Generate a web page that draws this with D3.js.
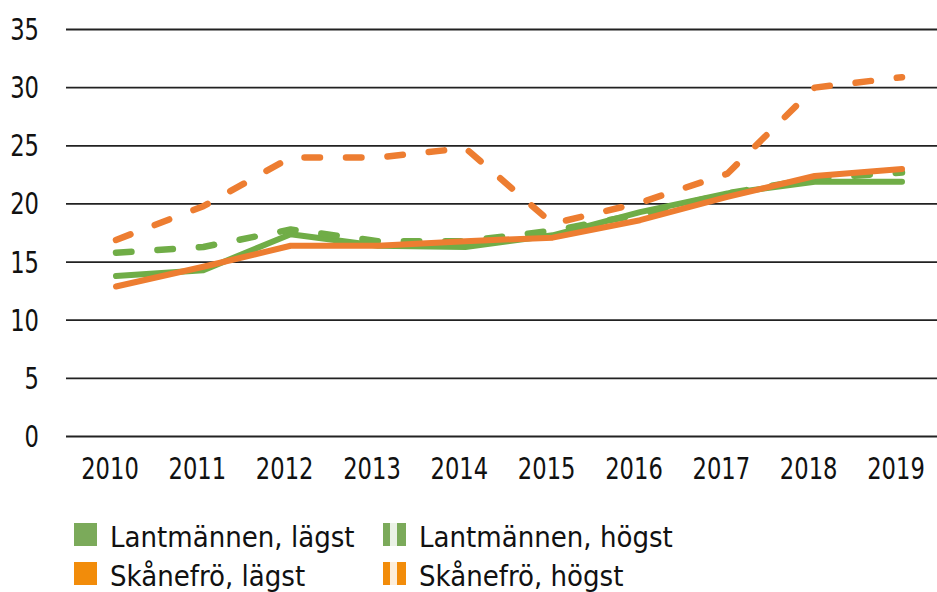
<!DOCTYPE html>
<html>
<head>
<meta charset="utf-8">
<script src="https://cdn.jsdelivr.net/npm/d3@7"></script>
<style>
  html, body { margin: 0; padding: 0; background: #fff; }
  svg { display: block; }
  text { font-family: "Liberation Sans Narrow", "DejaVu Sans Condensed", "Open Sans", sans-serif; fill: #111; }
</style>
</head>
<body>
<svg id="chart" width="937" height="592"></svg>
<script>
const years = ["2010","2011","2012","2013","2014","2015","2016","2017","2018","2019"];
const lantmannenLagst = [13.8, 14.3, 17.4, 16.4, 16.3, 17.3, 19.3, 20.9, 21.9, 21.9];
const lantmannenHogst = [15.8, 16.3, 17.8, 16.8, 16.8, 17.7, 19.1, 20.9, 22.2, 22.7];
const skanefroLagst   = [12.9, 14.6, 16.4, 16.4, 16.8, 17.1, 18.6, 20.6, 22.4, 23.0];
const skanefroHogst   = [16.9, 19.8, 24.0, 24.0, 24.8, 18.3, 20.1, 22.6, 30.0, 30.9];
const yTicks = [0, 5, 10, 15, 20, 25, 30, 35];
const seriesNames = ["Lantmännen, lägst", "Lantmännen, högst", "Skånefrö, lägst", "Skånefrö, högst"];

const GREEN = "#70AD47", ORANGE = "#ED7D31";
const LEG_GREEN = "#7BAA5A", LEG_ORANGE = "#F28C0A";

const series = [
  { name: seriesNames[0], values: lantmannenLagst, color: GREEN, dashed: false, leg: LEG_GREEN, col: 0, row: 0 },
  { name: seriesNames[1], values: lantmannenHogst, color: GREEN, dashed: true,  leg: LEG_GREEN, col: 1, row: 0 },
  { name: seriesNames[2], values: skanefroLagst,   color: ORANGE, dashed: false, leg: LEG_ORANGE, col: 0, row: 1 },
  { name: seriesNames[3], values: skanefroHogst,   color: ORANGE, dashed: true,  leg: LEG_ORANGE, col: 1, row: 1 }
];

const svg = d3.select("#chart");
const x = d3.scalePoint().domain(years).range([116, 902]);
const y = d3.scaleLinear().domain([0, 35]).range([436.5, 29.5]);
const DIGIT_W = 14.4;

// gridlines
svg.append("g").selectAll("line").data(yTicks).join("line")
  .attr("x1", 66).attr("x2", 937)
  .attr("y1", d => y(d)).attr("y2", d => y(d))
  .attr("stroke", "#222").attr("stroke-width", 1.8);

// y labels
svg.append("g").selectAll("text").data(yTicks).join("text")
  .attr("x", 39).attr("y", d => y(d))
  .attr("text-anchor", "end").attr("dominant-baseline", "central")
  .attr("font-size", 30)
  .attr("textLength", d => String(d).length * DIGIT_W)
  .attr("lengthAdjust", "spacingAndGlyphs")
  .text(d => d);

// x labels
svg.append("g").selectAll("text").data(years).join("text")
  .attr("x", d => x(d) - 6).attr("y", 479)
  .attr("text-anchor", "middle")
  .attr("font-size", 30)
  .attr("textLength", d => d.length * DIGIT_W)
  .attr("lengthAdjust", "spacingAndGlyphs")
  .text(d => d);

const line = d3.line().x((d, i) => x(years[i])).y(d => y(d));

svg.append("g").selectAll("path").data(series).join("path")
  .attr("d", s => line(s.values))
  .attr("fill", "none")
  .attr("stroke", s => s.color)
  .attr("stroke-width", s => s.dashed ? 6.5 : 6)
  .attr("stroke-linejoin", "round")
  .attr("stroke-linecap", "round")
  .attr("stroke-dasharray", s => s.dashed ? "15.5 26" : null);

// legend
const colX = [74, 383], rowY = [523, 562];
const lg = svg.append("g").selectAll("g").data(series).join("g")
  .attr("transform", s => `translate(${colX[s.col]},${rowY[s.row]})`);
lg.append("rect").attr("width", 23).attr("height", 23).attr("fill", s => s.leg);
lg.filter(s => s.dashed).append("rect")
  .attr("x", 7).attr("width", 7).attr("height", 23).attr("fill", "#fff").attr("opacity", 0.85);
lg.append("text").attr("x", 36).attr("y", 24).attr("font-size", 29).text(s => s.name);
</script>
</body>
</html>
